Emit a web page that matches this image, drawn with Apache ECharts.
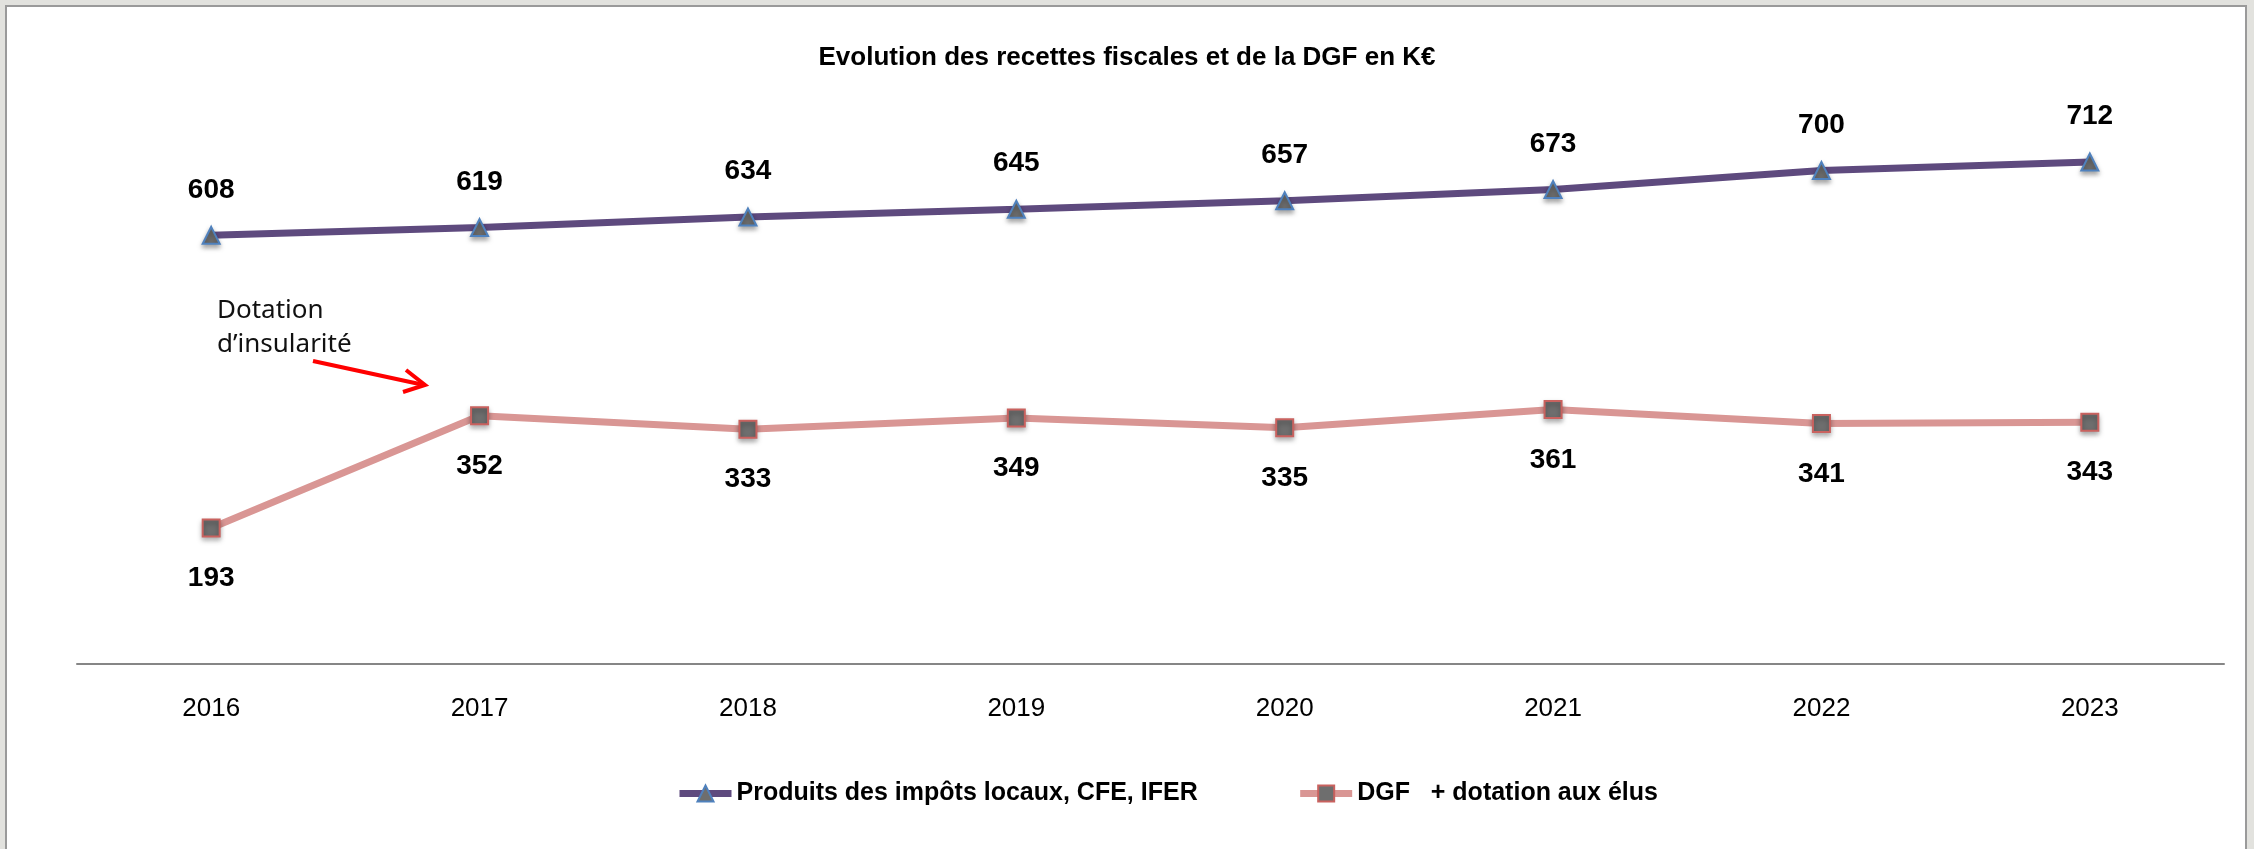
<!DOCTYPE html>
<html>
<head>
<meta charset="utf-8">
<title>Evolution des recettes fiscales et de la DGF</title>
<script src="https://cdn.jsdelivr.net/npm/echarts@6/dist/echarts.min.js"></script>
<style>
    html, body { margin: 0; padding: 0; background: #e2e2de; overflow: hidden; }
    #frame { position: absolute; left: 5px; top: 5px; width: 2238px; height: 900px; background: #fff; border: 2px solid #9a9a9a; }
    #make { position: absolute; left: 0; top: 0; width: 2254px; height: 849px; }
</style>
</head>
<body>
<div id="frame"></div>
<div id="make"></div>
<script>
    // données du graphique (en K€)
    var annees = ['2016', '2017', '2018', '2019', '2020', '2021', '2022', '2023'];
    var impots = [608, 619, 634, 645, 657, 673, 700, 712];
    var dgf = [193, 352, 333, 349, 335, 361, 341, 343];

    var nomImpots = 'Produits des impôts locaux, CFE, IFER';
    var nomDgf = 'DGF   + dotation aux élus';

    var police = "'Liberation Sans', Arial, sans-serif";

    var myChart = echarts.init(document.getElementById('make'));

    var option = {
        backgroundColor: 'transparent',
        animation: false,
        title: {
            text: 'Evolution des recettes fiscales et de la DGF en K€',
            left: 'center',
            top: 40,
            textStyle: {
                fontFamily: police,
                fontSize: 26,
                fontWeight: 'bold',
                color: '#000'
            }
        },
        legend: {
            left: 671,
            top: 776,
            itemWidth: 52,
            itemHeight: 20,
            itemGap: 99,
            textStyle: {
                fontFamily: police,
                fontSize: 25,
                fontWeight: 'bold',
                color: '#000'
            },
            data: [
                { name: nomImpots, lineStyle: { width: 7 } },
                { name: nomDgf, lineStyle: { width: 7 } }
            ]
        },
        grid: {
            left: 77,
            right: 30,
            top: 100,
            bottom: 185
        },
        xAxis: {
            type: 'category',
            data: annees,
            boundaryGap: true,
            axisLine: { lineStyle: { color: '#868686', width: 2 } },
            axisTick: { show: false },
            axisLabel: {
                margin: 32,
                fontFamily: police,
                fontSize: 26,
                color: '#000'
            }
        },
        yAxis: {
            type: 'value',
            min: 0,
            max: 800,
            show: false,
            splitLine: { show: false }
        },
        series: [
            {
                name: nomImpots,
                type: 'line',
                data: impots,
                symbol: 'triangle',
                symbolSize: 17,
                lineStyle: { color: '#5e4a7e', width: 7 },
                itemStyle: {
                    color: '#6e6e6e',
                    borderColor: '#4f81bd',
                    borderWidth: 2,
                    shadowBlur: 5,
                    shadowOffsetY: 3,
                    shadowColor: 'rgba(0,0,0,0.35)'
                },
                label: {
                    show: true,
                    position: 'top',
                    distance: 22,
                    fontFamily: police,
                    fontSize: 28,
                    fontWeight: 'bold',
                    color: '#000'
                }
            },
            {
                name: nomDgf,
                type: 'line',
                data: dgf,
                symbol: 'rect',
                symbolSize: 17,
                lineStyle: { color: '#d99694', width: 7 },
                itemStyle: {
                    color: '#6e6e6e',
                    borderColor: '#c9625f',
                    borderWidth: 2,
                    shadowBlur: 5,
                    shadowOffsetY: 3,
                    shadowColor: 'rgba(0,0,0,0.35)'
                },
                label: {
                    show: true,
                    position: 'bottom',
                    distance: 27,
                    fontFamily: police,
                    fontSize: 28,
                    fontWeight: 'bold',
                    color: '#000'
                }
            }
        ],
        // annotation : flèche rouge vers la dotation d'insularité
        graphic: [
            {
                type: 'text',
                left: 217,
                top: 294,
                style: {
                    text: 'Dotation\nd\u2019insularité',
                    fontFamily: "'Noto Sans', sans-serif",
                    fontSize: 26,
                    lineHeight: 34,
                    fill: '#111'
                }
            },
            {
                type: 'polyline',
                shape: { points: [[313, 361], [424, 385]] },
                style: { stroke: '#ff0000', lineWidth: 4, fill: null }
            },
            {
                type: 'polyline',
                shape: { points: [[406, 370], [425, 385], [403, 392]] },
                style: { stroke: '#ff0000', lineWidth: 4, fill: null }
            }
        ]
    };

    myChart.setOption(option);
</script>
</body>
</html>
